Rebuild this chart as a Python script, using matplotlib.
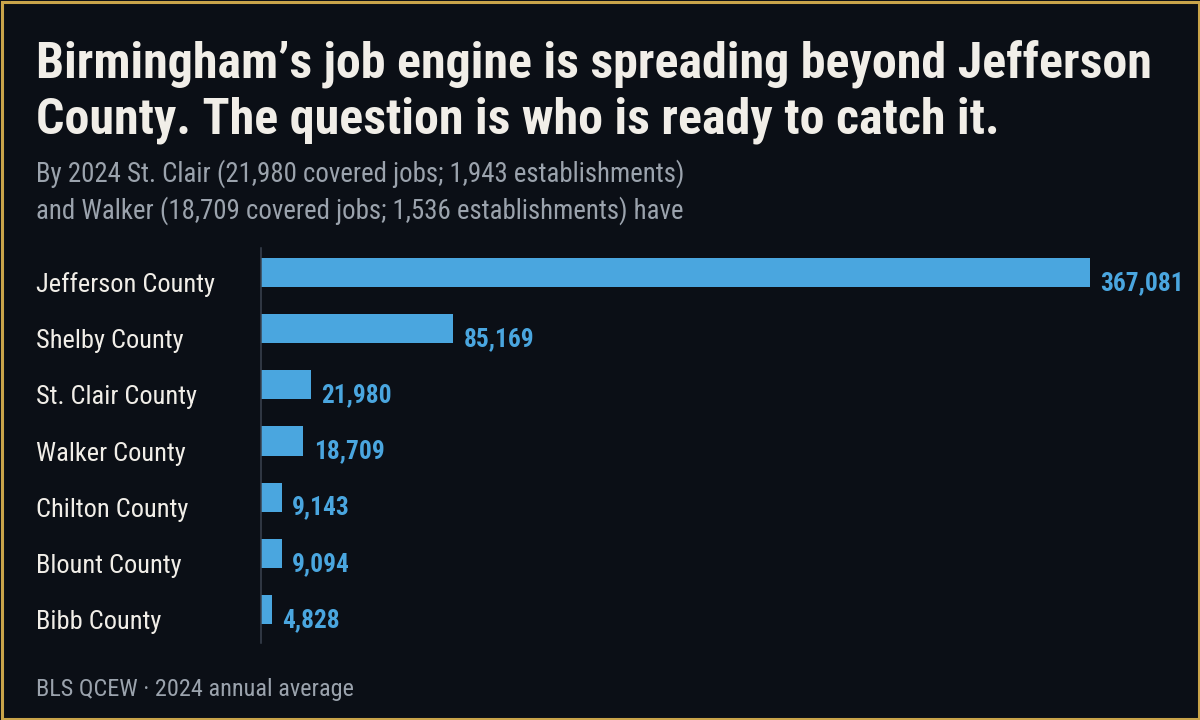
import matplotlib
matplotlib.use("Agg")
import matplotlib.pyplot as plt
from matplotlib.patches import Rectangle

counties = ["Jefferson County", "Shelby County", "St. Clair County", "Walker County",
            "Chilton County", "Blount County", "Bibb County"]
jobs = [367081, 85169, 21980, 18709, 9143, 9094, 4828]

title_lines = ["Birmingham\u2019s job engine is spreading beyond Jefferson",
               "County. The question is who is ready to catch it."]
subtitle_lines = ["By 2024 St. Clair (21,980 covered jobs; 1,943 establishments)",
                  "and Walker (18,709 covered jobs; 1,536 establishments) have"]
source = "BLS QCEW \u00b7 2024 annual average"

BG = "#0b0f16"
GOLD = "#c9a44a"
BLUE = "#4aa6df"
CREAM = "#f1eee8"
GRAY = "#9ba3ad"
FONT = "Roboto Condensed"

W, H = 1200, 720
fig = plt.figure(figsize=(12, 7.2), dpi=100, facecolor=BG)

def fx(px):
    return px / W

def fy(py):
    return 1 - py / H

# border
fig.patches.append(Rectangle((fx(1.5), fy(718.5)), fx(1197), 717 / H, transform=fig.transFigure,
                             fill=False, edgecolor=GOLD, linewidth=2.2, zorder=10))

# title
for i, line in enumerate(title_lines):
    fig.text(fx(36), fy(77 + 57 * i), line, color=CREAM, fontsize=36, fontweight="bold",
             family=FONT, va="baseline", ha="left")
for i, line in enumerate(subtitle_lines):
    fig.text(fx(36), fy(182 + 37 * i), line, color=GRAY, fontsize=19.4,
             family=FONT, va="baseline", ha="left")
fig.text(fx(36), fy(696), source, color=GRAY, fontsize=17.5, family=FONT, va="baseline", ha="left")

# axes
left, right, top, bottom = 261, 1090, 248, 643
ax = fig.add_axes([fx(left), fy(bottom), (right - left) / W, (bottom - top) / H])
ax.set_facecolor(BG)
y = list(range(len(counties)))
ax.barh(y, jobs, height=0.52, color=BLUE, zorder=2)
ax.set_xlim(0, max(jobs))
unit = 56.17
ax.set_ylim(6 + (bottom - 609.5) / unit, -(272.5 - top) / unit)
for s in ["top", "right", "bottom"]:
    ax.spines[s].set_visible(False)
ax.spines["left"].set_color("#3a4350")
ax.spines["left"].set_linewidth(1.1)
ax.set_xticks([])
ax.set_yticks([])

for yi, (c, v) in enumerate(zip(counties, jobs)):
    ax.annotate(f"{v:,}", xy=(v, yi), xytext=(7.5, -7.5), textcoords="offset points",
                color=BLUE, fontsize=18.3, fontweight="bold", family=FONT,
                va="center", ha="left", annotation_clip=False)
    ax.annotate(c, xy=(0, yi), xycoords=("figure fraction", "data"),
                xytext=(fx(36), -9), textcoords=("figure fraction", "offset points"),
                color=CREAM, fontsize=19, family=FONT, va="center", ha="left",
                annotation_clip=False)

fig.savefig("out.png", dpi=100, facecolor=BG)
